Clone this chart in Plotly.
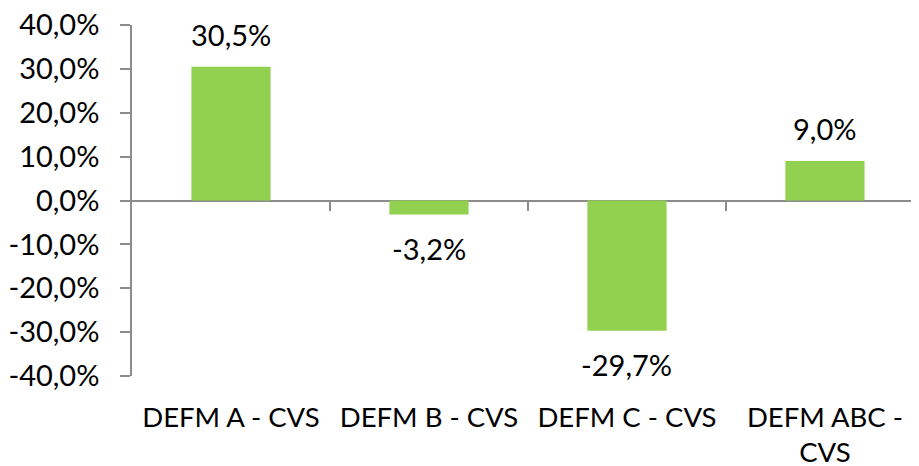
import plotly.graph_objects as go

GREEN = "#92D050"
GREY = "#8C8C8C"
FONT = "Lato"
SIZE = 29

categories = ["DEFM A - CVS", "DEFM B - CVS", "DEFM C - CVS", "DEFM ABC -<br>CVS"]
values = [0.305, -0.032, -0.297, 0.090]
positions = list(range(len(categories)))


def pct(v: float) -> str:
    # Excel style: decimal comma, plain hyphen for negatives
    return f"{v * 100:.1f}%".replace(".", ",")


y_ticks = [i / 10 for i in range(-4, 5)]

fig = go.Figure()
fig.add_trace(
    go.Bar(
        x=positions,
        y=values,
        width=0.4,
        marker={"color": GREEN, "line": {"width": 0}},
        showlegend=False,
        hoverinfo="skip",
    )
)
# invisible trace so the zero-line tick axis is drawn
fig.add_trace(go.Scatter(x=[0], y=[0], xaxis="x2", mode="markers", marker={"opacity": 0}, showlegend=False))

# value labels
for x, v in zip(positions, values):
    fig.add_annotation(
        x=x,
        y=v,
        text=pct(v),
        showarrow=False,
        yanchor="bottom" if v >= 0 else "top",
        yshift=13 if v >= 0 else -14,
        font={"family": FONT, "size": SIZE, "color": "#000000"},
    )

# page body has an 8px margin, so the figure is sized to the visible area
fig.update_layout(
    width=911,
    height=458,
    margin={"l": 124, "r": 0, "t": 17, "b": 90},
    plot_bgcolor="white",
    paper_bgcolor="white",
    font={"family": FONT, "size": SIZE, "color": "#000000"},
    xaxis={
        "range": [-0.5, 3.475],
        "tickvals": positions,
        "ticktext": categories,
        "tickfont": {"size": 27.5},
        "showline": False,
        "showgrid": False,
        "zeroline": False,
        "ticks": "",
        "ticklabelstandoff": 22,
        "ticklabeloverflow": "allow",
        "automargin": False,
    },
    xaxis2={
        "overlaying": "x",
        "anchor": "free",
        "position": 0.5,
        "range": [-0.5, 3.475],
        "tickvals": [0.5, 1.5, 2.5, 3.5],
        "ticks": "outside",
        "ticklen": 9,
        "tickwidth": 1.5,
        "tickcolor": GREY,
        "showticklabels": False,
        "showline": False,
        "showgrid": False,
        "zeroline": False,
        "automargin": False,
    },
    yaxis={
        "range": [-0.4, 0.4],
        "tickvals": y_ticks,
        "ticktext": [pct(t) for t in y_ticks],
        "showgrid": False,
        "showline": True,
        "linecolor": GREY,
        "linewidth": 1.5,
        "ticks": "outside",
        "ticklen": 10,
        "tickwidth": 1.5,
        "tickcolor": GREY,
        "zeroline": True,
        "zerolinecolor": GREY,
        "zerolinewidth": 1.5,
        "ticklabelstandoff": 15,
        "ticklabeloverflow": "allow",
        "automargin": False,
    },
)

fig.write_html("out.html")
